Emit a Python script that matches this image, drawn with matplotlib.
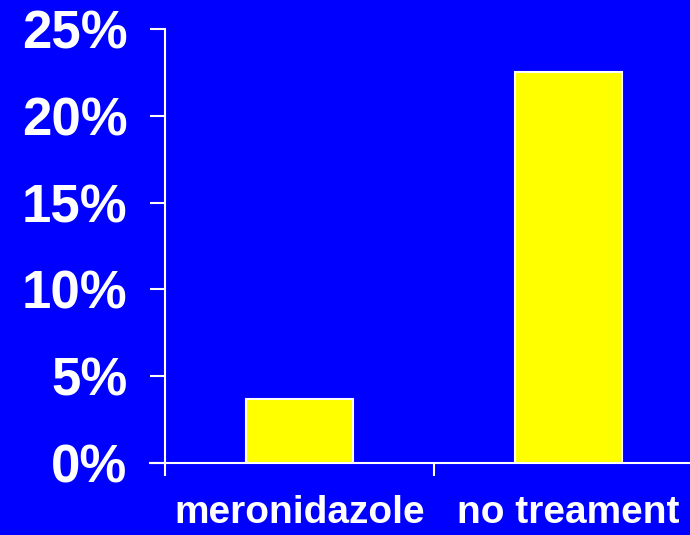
import matplotlib
matplotlib.use('Agg')
import matplotlib.pyplot as plt
from matplotlib.ticker import FixedLocator, FuncFormatter

# data
categories = ['meronidazole', 'no treament']
values = [3.7, 22.5]          # percent
y_ticks = [0, 5, 10, 15, 20, 25]

bg = '#0000FF'
bar_col = '#FFFF00'

plt.rcParams['font.family'] = ['Liberation Sans', 'DejaVu Sans']

fig = plt.figure(figsize=(6.9, 5.35), dpi=100, facecolor=bg)
ax = fig.add_axes([165/690, 72/535, 538/690, 434/535])
ax.set_facecolor(bg)

x = list(range(len(categories)))
ax.bar(x, values, width=0.40, color=bar_col, edgecolor='white', linewidth=1.5, zorder=3)

ax.set_xlim(-0.5, len(categories) - 0.5)
ax.set_ylim(0, 25)

for s in ['top', 'right']:
    ax.spines[s].set_visible(False)
for s in ['left', 'bottom']:
    ax.spines[s].set_color('white')
    ax.spines[s].set_linewidth(1.5)
ax.spines['bottom'].set_bounds(-0.5 - 15/269, len(categories) - 0.5)

ax.set_yticks(y_ticks)
ax.yaxis.set_major_formatter(FuncFormatter(lambda v, p: '%d%%' % v))
ax.tick_params(axis='y', colors='white', length=11, width=1.5, pad=16, labelsize=38)
for lab in ax.get_yticklabels():
    lab.set_fontweight('bold')

# category boundaries carry the ticks, names sit in the middle
ax.xaxis.set_major_locator(FixedLocator([-0.5, 0.5, 1.5]))
ax.xaxis.set_major_formatter(FuncFormatter(lambda v, p: ''))
ax.set_xticks(x, minor=True)
ax.set_xticklabels(categories, minor=True)
ax.tick_params(axis='x', which='major', colors='white', length=9, width=1.5)
ax.tick_params(axis='x', which='minor', length=0, pad=23, labelsize=28, labelcolor='white')
for lab in ax.get_xticklabels(minor=True):
    lab.set_fontweight('bold')

plt.savefig('out.png', dpi=100, facecolor=fig.get_facecolor())
